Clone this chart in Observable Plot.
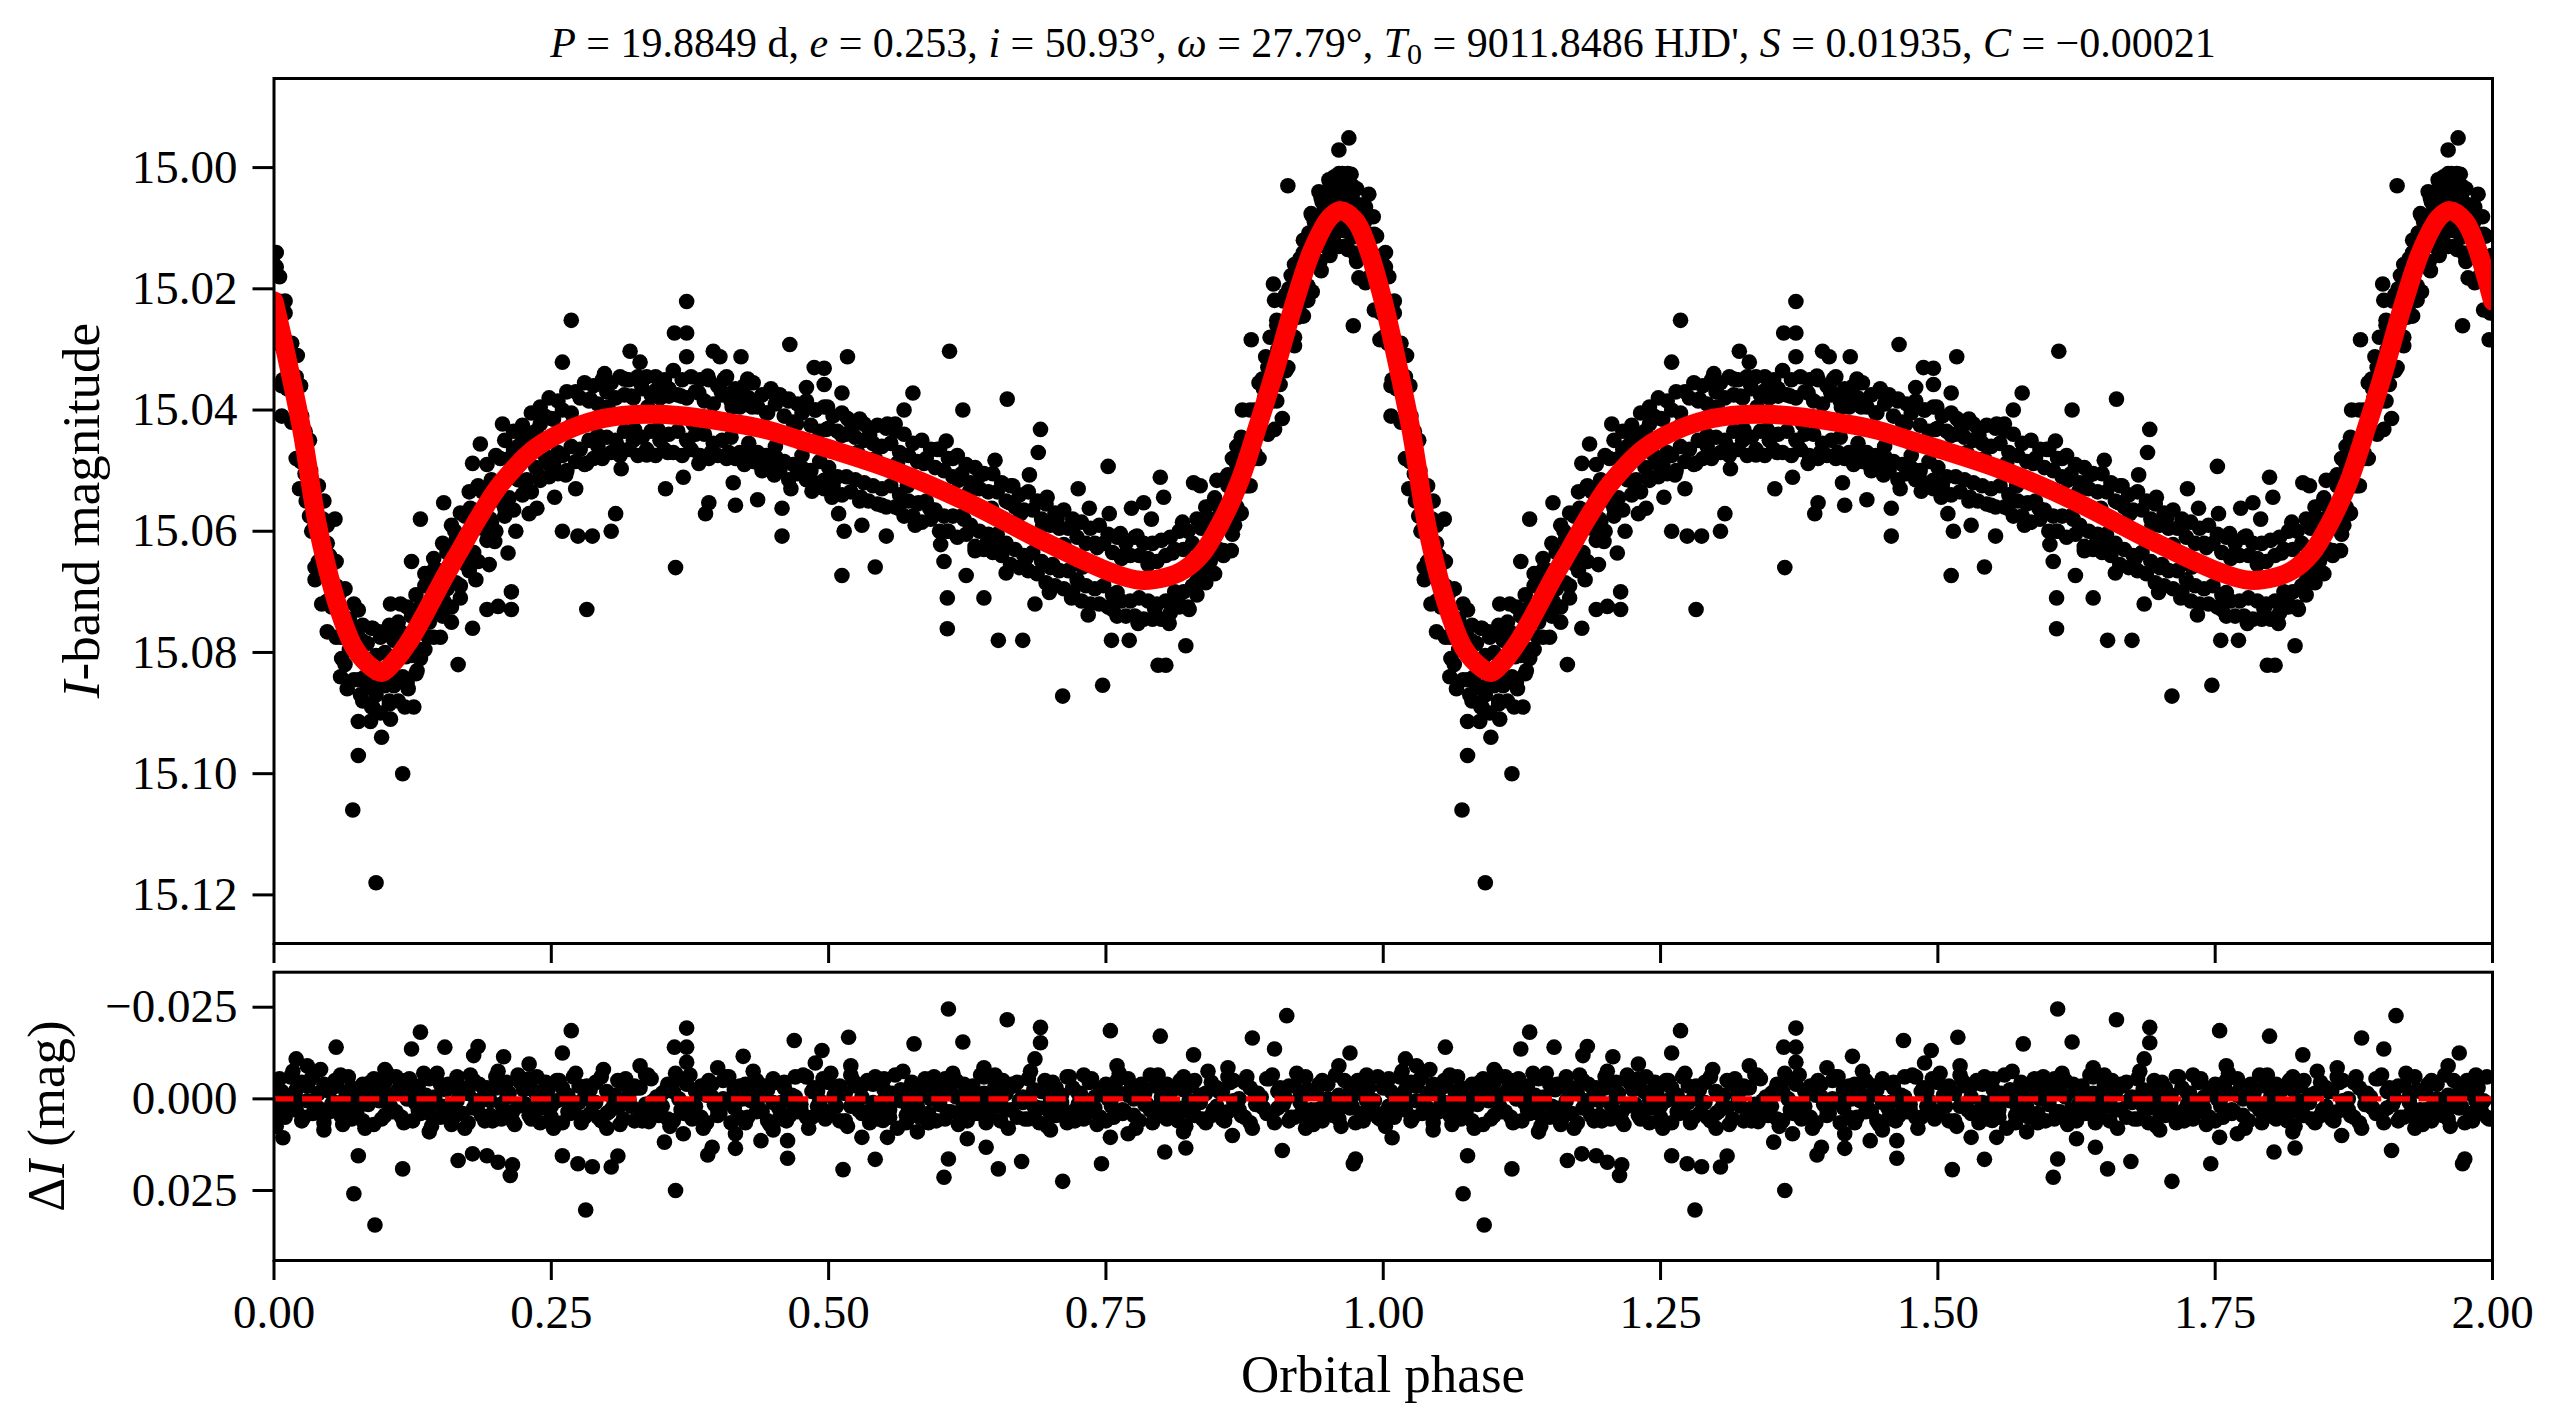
<!DOCTYPE html>
<html><head><meta charset="utf-8">
<script src="https://cdn.jsdelivr.net/npm/d3@7"></script>
<script src="https://cdn.jsdelivr.net/npm/@observablehq/plot@0.6"></script>
<style>
html,body{margin:0;padding:0;background:#fff;}
#fig{position:relative;width:2563px;height:1428px;overflow:hidden;background:#fff;}
#fig svg{position:absolute;left:0;}
</style></head><body><div id="fig"></div>
<script>
// ---------- values ----------
const xTicks = [0, 0.25, 0.5, 0.75, 1.0, 1.25, 1.5, 1.75, 2.0];
const yTicksTop = [15.00, 15.02, 15.04, 15.06, 15.08, 15.10, 15.12];
const yTicksRes = [-0.025, 0, 0.025];
const cycles = [0, 1]; // the phase-folded light curve is shown twice

// model curve (one orbital cycle)
const modelPhase = [0, 0.010, 0.025, 0.040, 0.057, 0.073, 0.089, 0.097, 0.105, 0.121, 0.137, 0.153, 0.169, 0.185, 0.201, 0.218, 0.234, 0.250, 0.282, 0.314, 0.347, 0.379, 0.411, 0.443, 0.475, 0.497, 0.558, 0.624, 0.690, 0.755, 0.781, 0.804, 0.820, 0.837, 0.853, 0.870, 0.886, 0.903, 0.919, 0.936, 0.952, 0.962, 0.975, 0.985, 1.000];
const modelMag = [15.0220, 15.0300, 15.0432, 15.0597, 15.0720, 15.0794, 15.0826, 15.0833, 15.0822, 15.0784, 15.0733, 15.0678, 15.0627, 15.0576, 15.0530, 15.0493, 15.0465, 15.0446, 15.0421, 15.0409, 15.0407, 15.0412, 15.0421, 15.0432, 15.0450, 15.0462, 15.0499, 15.0551, 15.0613, 15.0668, 15.0681, 15.0676, 15.0664, 15.0636, 15.0588, 15.0520, 15.0432, 15.0331, 15.0229, 15.0136, 15.0082, 15.0071, 15.0088, 15.0127, 15.0220];

// observations: [phase in 0.001, magnitude above 15.000 in mmag]
const obsScatter = [[2,14],[2,16.4],[5,18],[10,22],[10,24],[9,28],[21,31],[7,36],[7,41],[25,41],[28,44],[20,48],[23,53],[33,50],[29,55],[45,55],[55,58],[34,60],[48,62],[37,66],[50,64],[37,68],[43,72],[56,69],[48,76.6],[61,81],[60,84],[66,86],[76,73],[73,76.6],[78,87],[76,91.4],[87,91.4],[76,97],[71,106],[92,118],[97,94],[116,100],[105,91],[89,89],[118,89],[126,89],[121,86],[104,88],[110,84],[95,85],[89,86],[82,84],[79,78],[89,76],[95,76.6],[105,76],[114,76.6],[105,72],[114,72],[124,73],[119,80.7],[129,83],[132,81],[124,65],[132,58],[136,69],[139,77.5],[144,66.4],[150,77.5],[153,55.3],[153,71.5],[160,75],[166,82],[168,71],[163,60],[173,65.5],[177,56.2],[179,48.8],[179,76],[182,68],[186,45.6],[189,53.4],[192,72.9],[194,65.5],[195,58],[199,61.7],[202,72.4],[206,42.3],[208,56.2],[211,63.6],[214,70],[214,72.9],[216,46.5],[218,60],[224,45.1],[227,52.5],[230,57.1],[237,56.2],[240,42.3],[240,51.6],[247,48.8],[250,41.4],[253,54.4],[256,47],[260,32.1],[260,60],[263,50.7],[268,25.2],[269,42.3],[272,53],[274,60.8],[282,48.8],[282,72.9],[285,38.2],[287,60.8],[292,44.2],[298,34],[301,39.5],[304,60],[308,57.1],[310,46],[313,49.7],[316,34.9],[321,30.3],[322,37.7],[325,43.2],[330,32.1],[331,35.8],[336,47.4],[337,39.5],[344,36.8],[346,43.2],[353,53],[355,47],[356,37.7],[361,27.3],[362,66],[367,37.7],[369,51.1],[372,22.1],[372,27.3],[372,31.2],[373,45.1],[378,42.3],[383,37.2],[383,48.8],[389,57.1],[391,34.4],[392,55.3],[394,47],[396,30.3],[398,41.4],[402,31.2],[403,36.8],[406,34.9],[410,47],[413,39.5],[414,52],[416,55.7],[421,31.2],[422,37.2],[427,34.9],[430,47],[431,39.5],[436,54.8],[437,48.8],[445,40.5],[450,37.2],[451,50.7],[453,47.9],[458,60.8],[458,56.2],[464,38.2],[465,29.2],[466,53],[471,42.3],[477,49.7],[480,36.3],[485,53.4],[487,33],[488,40],
[496,33.1],[496,35.8],[499,39.5],[498,43.2],[496,51.6],[503,54.4],[512,37.2],[517,31.2],[517,41.4],[512,44.2],[514,60],[512,67.3],[509,57.1],[521,43.2],[526,47],[529,54.4],[530,59],[532,42.3],[537,44.2],[542,65.9],[542,48],[548,55.7],[552,60.8],[553,42.3],[560,42.3],[562,48.8],[563,56.2],[568,40],[571,52.5],[576,37.2],[578,59],[581,55.3],[586,48.8],[591,56.2],[598,46.5],[601,62.2],[604,65],[606,45.1],[607,60],[607,76.1],[607,71],[609,30.3],[612,48],[617,51.6],[621,40],[622,58],[624,67.3],[627,53.4],[632,63.2],[637,50.7],[640,71],[643,61.8],[647,56.2],[650,48.3],[653,78],[653,62.7],[660,66.9],[661,38.2],[663,55.3],[666,52.5],[673,57.1],[675,78],[678,64.5],[681,50.7],[686,72],[689,47],[691,43.2],[693,59],[697,54.4],[699,70.1],[702,65.5],[706,58],[711,87.2],[712,62.2],[719,71],[720,59.4],[725,53],[729,65.9],[734,73.8],[735,56.2],[742,62.7],[747,85.4],[752,49.3],[753,57.1],[755,78],[756,72.9],[760,70.1],[763,60.4],[768,63.6],[771,78],[773,56.2],[778,60.8],[779,75.2],[784,55.3],[788,65.5],[791,58],[794,72.9],[797,82.1],[799,51.1],[802,54.4],[804,82.1],[807,75.2],[810,63.6],[815,71],[819,58.5],[822,78.9],[825,72.9],[829,52],[832,68.2],[835,52.5],[840,58],[842,65.9],[847,55.3],[850,51.6],[856,63.2],[860,50.7],[863,63.2],[866,59],[868,46],[871,57.1],[873,40],[878,52.5],[879,48],[881,28.4],[883,45.1],[886,43.2],[891,34.9],[894,31.2],[901,19.2],[902,43.2],[902,21.9],[904,25.2],[907,35.8],[909,41.4],[912,27.5],[914,33],[914,3],[917,17.8],[920,29.4],[923,24.7],[927,19.2],[932,21.9],[933,10.8],[935,7.6],[943,15.5],[945,5.7],[951,2],[955,11.8],[960,-2.9],[961,3.4],[965,10.4],[969,-4.9],[971,1.1],[973,26.1],[974,14.1],[978,18.2],[981,6.2],[987,4.4],[991,8.1],[994,11.3],[997,28.4],[999,14.5],
[938,9],[942,4],[947,7],[950,5],[953,3.5],[956,1.5],[958,5],[963,1],[966,4.5],[968,7.5],[972,3],[976,6],[979,10],[983,9],[985,13],[989,14],[992,16.5],[995,19],[998,24],[948,12],[962,9.5],[966,13],[957,10],[885,48],[888,40],[893,38],[896,33],[898,28],[905,30],[910,22],[915,20],[918,25],[922,18],[925,15],[928,14],[930,17]];

// dense band of observations lying along the model (inner and outer rows)
const obsCore = [[4,22],[4,29],[12,29.5],[12,36.5],[20,34.5],[20,41.5],[28,43.5],[28,50.5],[36,52.5],[36,59.5],[44,58],[44,65],[52,65.5],[52,72.5],[60,70],[60,77.5],[68,74.5],[68,79.5],[76,76],[76,84.5],[84,78.5],[84,85.5],[92,80.5],[92,87],[100,80],[100,85.5],[108,78],[108,85.5],[116,77],[116,84],[124,74],[124,80.5],[132,72.5],[132,79.5],[140,67.5],[140,75],[148,66.5],[148,73.5],[156,63.5],[156,69.5],[164,61.5],[164,68.5],[172,57.5],[172,64.5],[180,56.5],[180,63.5],[188,53.5],[188,59.5],[196,51.5],[196,58.5],[204,48],[204,55],[212,48],[212,54.5],[220,46],[220,51.5],[228,44],[228,51.5],[236,43.5],[236,49.5],[244,41],[244,47.5],[252,41.5],[252,49],[260,40],[260,47.5],[268,40.5],[268,46],[276,38],[276,46.5],[284,38.5],[284,45],[292,39],[292,46],[300,37],[300,44.5],[308,38],[308,45],[316,37.5],[316,43.5],[324,38],[324,45],[332,36.5],[332,44.5],[340,37.5],[340,43.5],[348,38],[348,45],[356,36.5],[356,44],[364,37.5],[364,43.5],[372,38],[372,45],[380,37],[380,44],[388,38.5],[388,44],[396,39],[396,45.5],[404,37.5],[404,45],[412,38.5],[412,44.5],[420,39.5],[420,47],[428,38],[428,45.5],[436,39.5],[436,47],[444,40.5],[444,47.5],[452,39],[452,46],[460,41],[460,48.5],[468,42],[468,49],[476,40.5],[476,47.5],[484,42.5],[484,50],[492,43.5],[492,48.5],[500,43],[500,49.5],[508,43.5],[508,51],[516,44],[516,51],[524,44.5],[524,51.5],[532,45],[532,52],[540,45.5],[540,52.5],[548,46],[548,53],[556,45.5],[556,52.5],[564,47],[564,54],[572,47.5],[572,55],[580,48.5],[580,55.5],[588,48],[588,55],[596,49.5],[596,56.5],[604,50],[604,57.5],[612,51],[612,57.5],[620,50.5],[620,57.5],[628,52],[628,59],[636,53],[636,60],[644,53.5],[644,60.5],[652,53.5],[652,60.5],[660,55],[660,62],[668,56],[668,63],[676,56.5],[676,64],[684,56.5],[684,63.5],[692,58],[692,65],[700,59],[700,66],[708,59.5],[708,66.5],[716,59.5],[716,66.5],[724,61],[724,68],[732,62],[732,69],[740,62],[740,69.5],[748,62],[748,69],[756,63.5],[756,70.5],[764,64.5],[764,71.5],[772,64],[772,71.5],[780,64],[780,71],[788,64.5],[788,71.5],[796,65],[796,72],[804,64],[804,71.5],[812,63],[812,70],[820,63],[820,70],[828,62],[828,69],[836,59.5],[836,66.5],[844,58],[844,65],[852,56],[852,63],[860,52.5],[860,59.5],[868,49],[868,56],[876,45.5],[876,52.5],[884,40],[884,47],[892,36.5],[892,43.5],[900,31.5],[900,38.5],[908,26.5],[908,33.5],[916,20.5],[916,27.5],[924,17],[924,23.5],[932,12.5],[932,19.5],[940,9],[940,16],[948,6],[948,13],[956,4.5],[956,11],[964,3],[964,10],[972,5],[972,11.5],[980,7.5],[980,14],[988,11],[988,18],[996,16.5],[996,23.5],
[0,16],[0,28],[8,23.5],[8,35],[16,29],[16,42],[24,36],[24,48.5],[32,45],[32,57.5],[40,52.5],[40,65],[48,59],[48,71.5],[56,65],[56,77.5],[64,69.5],[64,82],[72,72],[72,84.5],[80,75.5],[80,88],[88,76],[88,89],[96,77.5],[96,90],[104,75.5],[104,88.5],[112,75],[112,88],[120,72.5],[120,85],[128,70.5],[128,83.5],[136,67],[136,79.5],[144,64.5],[144,77.5],[152,62],[152,74],[160,59],[160,72.5],[168,57],[168,69],[176,53.5],[176,66.5],[184,52.5],[184,65],[192,49],[192,61.5],[200,47.5],[200,60],[208,45],[208,57.5],[216,43.5],[216,56.5],[224,42.5],[224,54],[232,40.5],[232,53.5],[240,39.5],[240,51],[248,38],[248,51],[256,38.5],[256,50.5],[264,37],[264,50],[272,37],[272,48.5],[280,35.5],[280,49],[288,36],[288,48],[296,35],[296,48],[304,35.5],[304,47],[312,34.5],[312,47.5],[320,35],[320,46.5],[328,34.5],[328,47.5],[336,34.5],[336,46.5],[344,34.5],[344,47.5],[352,35],[352,46.5],[360,33.5],[360,47],[368,35],[368,47.5],[376,34.5],[376,46.5],[384,35],[384,47.5],[392,35],[392,48],[400,36],[400,47.5],[408,34.5],[408,48],[416,36.5],[416,48],[424,36],[424,49],[432,35.5],[432,48.5],[440,37.5],[440,50],[448,36.5],[448,49.5],[456,37.5],[456,50],[464,38.5],[464,51.5],[472,39],[472,50.5],[480,38.5],[480,51.5],[488,40],[488,52],[496,39.5],[496,53],[504,41],[504,52.5],[512,40.5],[512,54],[520,42],[520,53.5],[528,41.5],[528,55],[536,43],[536,55],[544,42.5],[544,55.5],[552,43],[552,56],[560,43.5],[560,56],[568,44],[568,57.5],[576,45.5],[576,57.5],[584,45],[584,58.5],[592,46.5],[592,58],[600,46.5],[600,60],[608,48],[608,60],[616,47.5],[616,61],[624,49],[624,60.5],[632,49.5],[632,62.5],[640,50.5],[640,63],[648,50.5],[648,63.5],[656,52],[656,64],[664,52.5],[664,65.5],[672,54],[672,66],[680,53.5],[680,66.5],[688,55],[688,67],[696,55.5],[696,68.5],[704,57],[704,69],[712,56.5],[712,69.5],[720,58],[720,70],[728,58.5],[728,71.5],[736,59.5],[736,72],[744,59],[744,72],[752,60.5],[752,72.5],[760,61],[760,74],[768,62],[768,74],[776,61],[776,74],[784,62],[784,74.5],[792,62],[792,74.5],[800,61.5],[800,74.5],[808,61],[808,73.5],[816,60],[816,72.5],[824,60],[824,72.5],[832,58],[832,70.5],[840,56],[840,68.5],[848,54.5],[848,67],[856,51.5],[856,64],[864,48],[864,60.5],[872,44.5],[872,57],[880,40],[880,52.5],[888,35.5],[888,48],[896,31.5],[896,44],[904,26],[904,38.5],[912,21],[912,33.5],[920,16],[920,28],[928,12],[928,24.5],[936,8],[936,20.5],[944,5],[944,17],[952,2.5],[952,14.5],[960,1],[960,13],[968,1],[968,13.5],[976,3.5],[976,15.5],[984,6.5],[984,19],[992,11],[992,23.5]];

// residuals: [phase in 0.001, O−C in mmag]
const residScatter = [[8,10.6],[20,-10.9],[56,-14.1],[72,25.9],[76,15.5],[91,34.4],[116,19.1],[124,-13.6],[132,-18.2],[154,-14.1],[166,16.8],[179,15],[184,-14.3],[180,-11.8],[192,15.5],[202,17.3],[207,-11.5],[213,20.9],[215,18],[260,-12.5],[268,-18.6],[260,15.5],[274,17.7],[281,30.3],[287,18.5],[304,18.6],[310,15.6],[338,6.2],[352,11.8],[362,25],[361,-14.1],[369,9.5],[372,-19.3],[372,-14.1],[372,-10],[391,15.3],[395,13.2],[416,9.5],[416,13.5],[423,-11.6],[439,11.4],[463,11.4],[463,16.2],[469,-15.9],[494,-13.2],[488,-9.8],[513,19.3],[518,-16.8],[542,16.5],[577,-15],[604,21.4],[608,16.4],[608,-24.5],[621,-15.5],[625,10.9],[642,13.2],[653,19.1],[661,-21.6],[674,17.1],[691,-19.5],[691,-15.3],[686,-10.9],[711,22.5],[746,17.7],[754,-18.6],[754,10.5],[799,-17.1],[803,14.5],[822,13.4],[829,-12],[882,-16.6],[902,-13.6],[909,14.1],[913,-22.7],[970,-12.5],[973,17.7],[975,16.4],[864,10],[770,9.5],[549,5.9],[530,10.5],[553,10.5],[30,-9],[45,8.5],[100,-8],[140,9],[230,-9.5],[300,8],[330,-9],[400,-8.5],[450,8.5],[520,-9],[580,9],[640,-8.5],[700,8.5],[760,-9],[820,9],[860,-8.5],[930,8],[960,-9]];
const residCore = [[0,-3],[0,4],[5,2],[5,-5.5],[10,5],[10,-1],[15,-6],[15,1.5],[20,3],[20,-2.5],[25,-4.5],[25,6],[30,0.5],[30,-3.5],[35,4],[35,-6.5],[40,-1.5],[40,2.5],[45,6.5],[45,-4],[50,-2],[50,3.5],[55,1],[55,-5],[60,-6.5],[60,4.5],[65,2.5],[65,-1],[70,5.5],[70,-3],[75,-0.5],[75,3],[80,-4],[80,6],[85,1.5],[85,-2],[90,7],[90,-5.5],[95,-3],[95,0.5],[100,4.5],[100,-4.5],[105,-1],[105,2],[110,3.5],[110,-6],[115,-5],[115,5],[120,0],[120,-2.5],[125,6],[125,-1.5],[130,-3.5],[130,3],[135,2],[135,-7],[140,-5.5],[140,4],[145,1],[145,-0.5],[150,5],[150,-4],[155,-2.5],[155,2.5],[160,3],[160,7],[165,-6],[165,0.5],[170,4],[170,-3],[175,-1.5],[175,6.5],[180,2.5],[180,-5],[185,-4],[185,1],[190,6],[190,-2],[195,0.5],[195,4.5],[200,-3],[200,-6],[205,5.5],[205,1.5],[210,-0.5],[210,-4.5],[215,3.5],[215,6],[220,-6.5],[220,2],[225,1.5],[225,-2.5],[230,4.5],[230,-5.5],[235,-2],[235,3],[240,0],[240,6.5],[245,-4.5],[245,-1],[250,2],[250,5],[255,-5],[255,0.5],[260,6.5],[260,-3],[265,-1],[265,3.5],[270,3],[270,-6],[275,-3.5],[275,1],[280,5],[280,-0.5],[285,-2.5],[285,4],[290,1],[290,-4.5],[295,-6],[295,6],[300,4],[300,-2],[305,-0.5],[305,2.5],[310,2.5],[310,-5],[315,-4],[315,5.5],[320,0.5],[320,-1.5],[325,6],[325,-3.5],[330,-3],[330,3],[335,1.5],[335,-6.5],[340,-5.5],[340,4.5],[345,3.5],[345,-0.5],[350,-1.5],[350,2],[355,5.5],[355,-4],[360,-2],[360,6],[365,0],[365,-5.5],[370,4],[370,1.5],[375,-6.5],[375,3],[380,2],[380,-2],[385,-3.5],[385,5],[390,6.5],[390,-1],[395,-0.5],[395,-4],[400,3],[400,4.5],[405,-5],[405,0],[410,1],[410,-6],[415,-2.5],[415,2.5],[420,5],[420,-3.5],[425,-4],[425,6.5],[430,0.5],[430,-1.5],[435,3.5],[435,-5],[440,-1],[440,3.5],[445,6],[445,-2.5],[450,-5.5],[450,1],[455,2.5],[455,5.5],[460,-3],[460,-4.5],[465,4.5],[465,0.5],[470,-0.5],[470,-6],[475,1.5],[475,3],[480,-6],[480,5],[485,5],[485,-2],[490,-2],[490,2],[495,3],[495,-5.5],[500,-4.5],[500,4],[505,0],[505,-1],[510,6],[510,-3.5],[515,-1.5],[515,6],[520,2],[520,-6.5],[525,-3.5],[525,1.5],[530,4],[530,-0.5],[535,-5],[535,3.5],[540,1],[540,-4],[545,5.5],[545,2.5],[550,-2.5],[550,-5.5],[555,3],[555,5],[560,-6.5],[560,0],[565,0.5],[565,-2.5],[570,4.5],[570,6.5],[575,-1],[575,-4.5],[580,2.5],[580,2],[585,-4],[585,-1],[590,6.5],[590,4],[595,-3],[595,-6],[600,1.5],[600,1],[605,-5.5],[605,5.5],[610,3.5],[610,-2],[615,-0.5],[615,-5],[620,5],[620,3],[625,-2],[625,6],[630,0],[630,-3.5],[635,4],[635,1.5],[640,-6],[640,-1.5],[645,2],[645,4.5],[650,-3.5],[650,-6.5],[655,6],[655,0.5],[660,-1.5],[660,3],[665,3],[665,-4],[670,-4.5],[670,5],[675,1],[675,-0.5],[680,5.5],[680,-5.5],[685,-2.5],[685,2],[690,2.5],[690,6.5],[695,-5],[695,-2.5],[700,0.5],[700,4],[705,4.5],[705,-3],[710,-1],[710,1],[715,6.5],[715,-6],[720,-3],[720,3.5],[725,1.5],[725,-1.5],[730,-6.5],[730,5.5],[735,3.5],[735,-4.5],[740,-0.5],[740,2.5],[745,5],[745,-2],[750,-4],[750,6],[755,2],[755,0],[760,-2],[760,-5],[765,4],[765,3],[770,-5.5],[770,-1],[775,0],[775,4.5],[780,6],[780,-3.5],[785,-1.5],[785,1.5],[790,3],[790,-6.5],[795,-3.5],[795,5],[800,1],[800,-0.5],[805,5.5],[805,-4],[810,-2.5],[810,2.5],[815,2.5],[815,6],[820,-6],[820,-2.5],[825,0.5],[825,3.5],[830,4.5],[830,-5],[835,-1],[835,1],[840,6.5],[840,-1.5],[845,-4.5],[845,4.5],[850,2],[850,-3],[855,-2],[855,5.5],[860,3.5],[860,-6],[865,-5],[865,0.5],[870,0],[870,3],[875,5],[875,-4.5],[880,-3],[880,6.5],[885,1.5],[885,-1],[890,-0.5],[890,2],[895,4],[895,-5.5],[900,-6.5],[900,4],[905,2.5],[905,-2],[910,-1.5],[910,1.5],[915,6],[915,-3.5],[920,-3.5],[920,5],[925,1],[925,-0.5],[930,5.5],[930,-6],[935,-2],[935,3],[940,3],[940,-2.5],[945,-5],[945,6],[950,0],[950,-4],[955,4.5],[955,1],[960,-1],[960,5.5],[965,2],[965,-5],[970,-4],[970,2.5],[975,6.5],[975,-1.5],[980,-2.5],[980,4],[985,0.5],[985,-6.5],[990,3.5],[990,1.5],[995,-6],[995,5],
[2,7.5],[7,-2],[12,3],[17,-7.5],[22,0.5],[27,5],[32,-5],[37,2],[42,-8],[47,4],[52,1.5],[57,-3.5],[62,7],[67,-6],[72,2.5],[77,-1.5],[82,8],[87,-4.5],[92,0],[97,5.5],[102,-7],[107,3.5],[112,-2.5],[117,6.5],[122,-5.5],[127,1],[132,4],[137,-1],[142,7.5],[147,-7],[152,2],[157,-4],[162,5],[167,-2],[172,8],[177,-6.5],[182,0.5],[187,4.5],[192,-3],[197,6],[202,-7.5],[207,3],[212,-1.5],[217,7],[222,-4.5],[227,1.5],[232,5.5],[237,-6],[242,2.5],[247,-2.5],[252,8],[257,-5],[262,0],[267,4],[272,-7],[277,6.5],[282,-3.5],[287,1],[292,5],[297,-8],[302,3.5],[307,-1],[312,7],[317,-5.5],[322,2],[327,-3],[332,6],[337,-6.5],[342,0.5],[347,4.5],[352,-2],[357,7.5],[362,-7],[367,3],[372,-4],[377,5.5],[382,-1.5],[387,8],[392,-5],[397,1.5],[402,4],[407,-6],[412,6.5],[417,-2.5],[422,0],[427,5],[432,-7.5],[437,2.5],[442,-3.5],[447,7],[452,-4.5],[457,1],[462,6],[467,-1],[472,3.5],[477,-6.5],[482,8],[487,-3],[492,0.5],[497,5.5],[502,-7],[507,2],[512,-2],[517,7.5],[522,-5],[527,3],[532,-4],[537,6.5],[542,-6],[547,1],[552,4.5],[557,-1.5],[562,8],[567,-7.5],[572,2.5],[577,-3],[582,5],[587,-5.5],[592,0],[597,6],[602,-2.5],[607,3.5],[612,-7],[617,7],[622,-4],[627,1.5],[632,4],[637,-6.5],[642,6.5],[647,-1],[652,2],[657,-5],[662,8],[667,-3.5],[672,0.5],[677,5.5],[682,-7.5],[687,3],[692,-2],[697,7.5],[702,-4.5],[707,1],[712,4.5],[717,-6],[722,6],[727,-1.5],[732,2.5],[737,-5.5],[742,7],[747,-3],[752,0],[757,5],[762,-7],[767,3.5],[772,-2.5],[777,8],[782,-4],[787,1.5],[792,6.5],[797,-6.5],[802,2],[807,-1],[812,4],[817,-5],[822,7.5],[827,-3.5],[832,0.5],[837,5.5],[842,-7.5],[847,3],[852,-2],[857,6],[862,-4.5],[867,1],[872,4.5],[877,-6],[882,8],[887,-1.5],[892,2.5],[897,-5.5],[902,6.5],[907,-3],[912,0],[917,5],[922,-7],[927,3.5],[932,-2.5],[937,7],[942,-4],[947,1.5],[952,4],[957,-6.5],[962,7.5],[967,-1],[972,2],[977,-5],[982,6],[987,-3],[992,0.5],[997,5.5]];

// ---------- build tables ----------
const obsAll = cycles.flatMap(c => obsScatter.concat(obsCore).map(([p, m]) => ({phase: c + p / 1000, mag: 15 + m / 1000})));
const residAll = cycles.flatMap(c => residScatter.concat(residCore).map(([p, r]) => ({phase: c + p / 1000, resid: r / 1000})));
const modelAll = cycles.flatMap((c, k) => modelPhase.map((p, i) => ({phase: c + p, mag: modelMag[i]})).filter((d, i) => k === 0 || i > 0));

const FONT = "'Liberation Serif', 'Times New Roman', serif";
const W = 2563, L = 273.5, R = 71;
const baseStyle = {fontFamily: FONT, fontSize: "47px", color: "#000", background: "transparent", overflow: "visible"};
const fmtRes = d => d === 0 ? "0.000" : (d < 0 ? "\u2212" : "") + Math.abs(d).toFixed(3);

const topPlot = Plot.plot({
  width: W, height: 965,
  marginLeft: L, marginRight: R, marginTop: 78, marginBottom: 22,
  style: baseStyle,
  x: {domain: [0, 2]},
  y: {domain: [15.12802, 14.9853]},
  marks: [
    Plot.dot(obsAll, {x: "phase", y: "mag", r: 7.8, fill: "#000", stroke: "none", clip: true}),
    Plot.line(modelAll, {x: "phase", y: "mag", stroke: "#ff0000", strokeWidth: 19, curve: "catmull-rom", clip: true}),
    Plot.frame({stroke: "#000", strokeWidth: 3}),
    Plot.axisY({ticks: yTicksTop, tickSize: 21, tickPadding: 15.5, tickFormat: d => d.toFixed(2), fontSize: 47, strokeWidth: 3, label: null}),
    Plot.axisX({ticks: xTicks, tickSize: 20, tickFormat: () => "", strokeWidth: 3, label: null})
  ]
});

const bottomPlot = Plot.plot({
  width: W, height: 463,
  marginLeft: L, marginRight: R, marginTop: 6.7, marginBottom: 168,
  style: baseStyle,
  x: {domain: [0, 2]},
  y: {domain: [0.04409, -0.03455]},
  marks: [
    Plot.dot(residAll, {x: "phase", y: "resid", r: 7.8, fill: "#000", stroke: "none", clip: true}),
    Plot.ruleY([0], {stroke: "#ff0000", strokeWidth: 5.4, strokeDasharray: "20,8.6"}),
    Plot.frame({stroke: "#000", strokeWidth: 3}),
    Plot.axisY({ticks: yTicksRes, tickSize: 21, tickPadding: 15.5, tickFormat: fmtRes, fontSize: 47, strokeWidth: 3, label: null}),
    Plot.axisX({ticks: xTicks, tickSize: 20, tickPadding: 14.6, tickFormat: d => d.toFixed(2), fontSize: 47, strokeWidth: 3, label: null})
  ]
});

topPlot.style.top = "0px";
bottomPlot.style.top = "965px";
const fig = document.getElementById("fig");
fig.appendChild(topPlot);
fig.appendChild(bottomPlot);

function addText(svg, {x, y, rotate = 0, size, parts}) {
  const t = d3.select(svg).append("text")
    .attr("transform", `translate(${x},${y})` + (rotate ? ` rotate(${rotate})` : ""))
    .attr("text-anchor", "middle")
    .attr("font-family", FONT)
    .attr("font-size", size)
    .attr("fill", "#000");
  for (const p of parts) {
    const s = t.append("tspan").text(p.t);
    if (p.i) s.attr("font-style", "italic");
    if (p.dy) s.attr("dy", p.dy);
    if (p.fs) s.attr("font-size", p.fs);
  }
}

addText(topPlot, {x: 1383, y: 57, size: 42, parts: [
  {t: "P", i: 1}, {t: " = 19.8849 d, "}, {t: "e", i: 1}, {t: " = 0.253, "}, {t: "i", i: 1}, {t: " = 50.93°, "},
  {t: "ω", i: 1}, {t: " = 27.79°, "}, {t: "T", i: 1}, {t: "0", dy: 7, fs: 30}, {t: " = 9011.8486 HJD', ", dy: -7},
  {t: "S", i: 1}, {t: " = 0.01935, "}, {t: "C", i: 1}, {t: " = \u22120.00021"}
]});
addText(topPlot, {x: 99, y: 510.5, rotate: -90, size: 53, parts: [{t: "I", i: 1}, {t: "-band magnitude"}]});
addText(bottomPlot, {x: 64, y: 151, rotate: -90, size: 53, parts: [{t: "Δ"}, {t: "I", i: 1}, {t: " (mag)"}]});
addText(bottomPlot, {x: 1383, y: 426.7, size: 53, parts: [{t: "Orbital phase"}]});
</script>
</body></html>
